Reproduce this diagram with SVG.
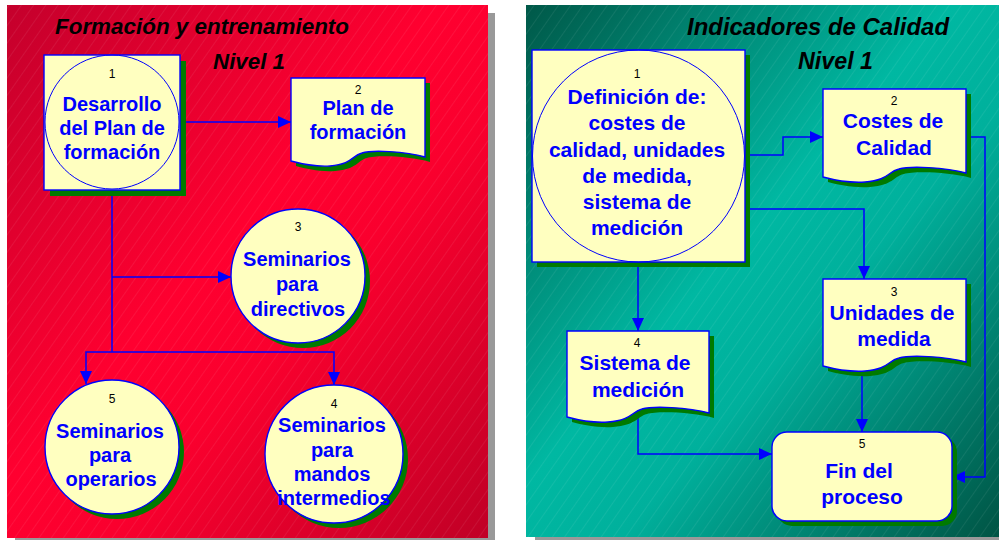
<svg xmlns="http://www.w3.org/2000/svg" width="999" height="540" viewBox="0 0 999 540">
<defs>
<linearGradient id="gRed" x1="0" y1="0" x2="1" y2="1">
<stop offset="0" stop-color="#c4002c"/>
<stop offset="0.45" stop-color="#ff0030"/>
<stop offset="0.6" stop-color="#fa002e"/>
<stop offset="1" stop-color="#c00026"/>
</linearGradient>
<linearGradient id="gTeal" x1="0" y1="0" x2="1" y2="1">
<stop offset="0" stop-color="#005848"/>
<stop offset="0.45" stop-color="#00b8a2"/>
<stop offset="0.6" stop-color="#00b09c"/>
<stop offset="1" stop-color="#005444"/>
</linearGradient>
<pattern id="hatch" width="10" height="10" patternUnits="userSpaceOnUse" patternTransform="rotate(35)">
<line x1="0" y1="0" x2="0" y2="10" stroke="#ffffff" stroke-opacity="0.18" stroke-width="0.8"/>
</pattern>
<marker id="arr" markerUnits="userSpaceOnUse" markerWidth="14" markerHeight="13" refX="13" refY="6" orient="auto">
<path d="M0,0 L13,6 L0,12 Z" fill="#0000ff"/>
</marker>
<style>
.sh{fill:#007a00;stroke:none}
.nd{fill:#ffffc0;stroke:#0000ff;stroke-width:1.4}
.ci{fill:none;stroke:#0000ff;stroke-width:1}
.num{font-family:"Liberation Sans",Arial,sans-serif;font-size:12px;fill:#000;text-anchor:middle}
.lbl{font-family:"Liberation Sans",Arial,sans-serif;font-size:20px;font-weight:bold;fill:#0000ff;text-anchor:middle}
.lbr{font-family:"Liberation Sans",Arial,sans-serif;font-size:21px;font-weight:bold;fill:#0000ff;text-anchor:middle}
.ttl{font-family:"Liberation Sans",Arial,sans-serif;font-weight:bold;font-style:italic;fill:#000}
.cn{fill:none;stroke:#0000ff;stroke-width:1.5}
</style>
</defs>

<!-- panels -->
<g id="panel-left">
<rect x="488" y="13" width="7" height="527" fill="#999999"/>
<rect x="15" y="537" width="480" height="3" fill="#999999"/>
<rect x="7" y="5" width="481" height="533" fill="url(#gRed)"/>
<rect x="7" y="5" width="481" height="533" fill="url(#hatch)"/>
<text class="ttl" x="55" y="34" font-size="22" textLength="294" lengthAdjust="spacingAndGlyphs">Formación y entrenamiento</text>
<text class="ttl" x="213" y="69" font-size="22" textLength="72" lengthAdjust="spacingAndGlyphs">Nivel 1</text>
</g>
<g id="panel-right">
<rect x="535" y="536" width="464" height="4" fill="#999999"/>
<rect x="526" y="5" width="473" height="532" fill="url(#gTeal)"/>
<rect x="526" y="5" width="473" height="532" fill="url(#hatch)"/>
<text class="ttl" x="687" y="35" font-size="23.5" textLength="262" lengthAdjust="spacingAndGlyphs">Indicadores de Calidad</text>
<text class="ttl" x="798" y="69" font-size="23.5" textLength="75" lengthAdjust="spacingAndGlyphs">Nivel 1</text>
</g>

<!-- connectors -->
<g id="connectors">
<path class="cn" d="M181,122 H291" marker-end="url(#arr)"/>
<path class="cn" d="M112,190 V352"/>
<path class="cn" d="M112,277 H231" marker-end="url(#arr)"/>
<path class="cn" d="M112,352 H86 V384" marker-end="url(#arr)"/>
<path class="cn" d="M112,352 H334 V385" marker-end="url(#arr)"/>
<path class="cn" d="M745,155 H783 V137 H823" marker-end="url(#arr)"/>
<path class="cn" d="M745,209 H864 V279" marker-end="url(#arr)"/>
<path class="cn" d="M966,137 H985 V477 H952" marker-end="url(#arr)"/>
<path class="cn" d="M638,262 V331" marker-end="url(#arr)"/>
<path class="cn" d="M862,372 V432" marker-end="url(#arr)"/>
<path class="cn" d="M638,412 V454 H772" marker-end="url(#arr)"/>
</g>

<!-- left nodes -->
<g id="L1">
<rect class="sh" x="50" y="61" width="136" height="135"/>
<rect class="nd" x="44" y="55" width="136" height="135"/>
<circle class="ci" cx="112" cy="122" r="67"/>
<text class="num" x="112" y="78">1</text>
<text class="lbl" x="112" y="111">Desarrollo</text>
<text class="lbl" x="112" y="135">del Plan de</text>
<text class="lbl" x="112" y="159">formación</text>
</g>
<g id="L2">
<path class="sh" transform="translate(5,5)" d="M291,78 H425 V157 C405,151 371,150 362,153 C351,156 353,164 330,166 C315,167 302,164 291,161 Z"/>
<path class="nd" d="M291,78 H425 V157 C405,151 371,150 362,153 C351,156 353,164 330,166 C315,167 302,164 291,161 Z"/>
<text class="num" x="358" y="94">2</text>
<text class="lbl" x="358" y="115">Plan de</text>
<text class="lbl" x="358" y="139">formación</text>
</g>
<g id="L3">
<circle class="sh" cx="303" cy="281" r="67"/>
<circle class="nd" cx="298" cy="276" r="67"/>
<text class="num" x="298" y="231">3</text>
<text class="lbl" x="297" y="266">Seminarios</text>
<text class="lbl" x="297" y="291">para</text>
<text class="lbl" x="298" y="316">directivos</text>
</g>
<g id="L5">
<circle class="sh" cx="117" cy="452" r="67"/>
<circle class="nd" cx="112" cy="447" r="67"/>
<text class="num" x="112" y="403">5</text>
<text class="lbl" x="110" y="438">Seminarios</text>
<text class="lbl" x="110" y="462">para</text>
<text class="lbl" x="111" y="486">operarios</text>
</g>
<g id="L4">
<circle class="sh" cx="339" cy="459" r="69"/>
<circle class="nd" cx="334" cy="454" r="69"/>
<text class="num" x="334" y="408">4</text>
<text class="lbl" x="332" y="432">Seminarios</text>
<text class="lbl" x="332" y="457">para</text>
<text class="lbl" x="332" y="481">mandos</text>
<text class="lbl" x="334" y="505">intermedios</text>
</g>

<!-- right nodes -->
<g id="R1">
<rect class="sh" x="537" y="55" width="213" height="212"/>
<rect class="nd" x="532" y="50" width="213" height="212"/>
<circle class="ci" cx="638.5" cy="156" r="106"/>
<text class="num" x="637" y="78">1</text>
<text class="lbr" x="637" y="104">Definición de:</text>
<text class="lbr" x="637" y="130">costes de</text>
<text class="lbr" x="637" y="157">calidad, unidades</text>
<text class="lbr" x="637" y="183">de medida,</text>
<text class="lbr" x="637" y="209">sistema de</text>
<text class="lbr" x="637" y="235">medición</text>
</g>
<g id="R2">
<path class="sh" transform="translate(5,5)" d="M823,89 H966 V173 C945,167 909,166 899,169 C887,172 889,180 865,182 C849,183 834,180 823,177 Z"/>
<path class="nd" d="M823,89 H966 V173 C945,167 909,166 899,169 C887,172 889,180 865,182 C849,183 834,180 823,177 Z"/>
<text class="num" x="894" y="105">2</text>
<text class="lbr" x="893" y="128">Costes de</text>
<text class="lbr" x="894" y="155">Calidad</text>
</g>
<g id="R3">
<path class="sh" transform="translate(5,5)" d="M823,279 H966 V362 C945,356 909,355 899,358 C887,361 889,369 865,371 C849,372 834,369 823,366 Z"/>
<path class="nd" d="M823,279 H966 V362 C945,356 909,355 899,358 C887,361 889,369 865,371 C849,372 834,369 823,366 Z"/>
<text class="num" x="894" y="296">3</text>
<text class="lbr" x="892" y="320">Unidades de</text>
<text class="lbr" x="894" y="346">medida</text>
</g>
<g id="R4">
<path class="sh" transform="translate(5,5)" d="M567,331 H709 V413 C688,407 652,406 642,409 C631,412 632,420 608,422 C593,423 578,420 567,417 Z"/>
<path class="nd" d="M567,331 H709 V413 C688,407 652,406 642,409 C631,412 632,420 608,422 C593,423 578,420 567,417 Z"/>
<text class="num" x="637" y="347">4</text>
<text class="lbr" x="635" y="370">Sistema de</text>
<text class="lbr" x="638" y="397">medición</text>
</g>
<g id="R5">
<rect class="sh" x="777" y="437" width="180" height="89" rx="15"/>
<rect class="nd" x="772" y="432" width="180" height="89" rx="15"/>
<text class="num" x="862" y="448">5</text>
<text class="lbr" x="859" y="478">Fin del</text>
<text class="lbr" x="862" y="504">proceso</text>
</g>
</svg>
